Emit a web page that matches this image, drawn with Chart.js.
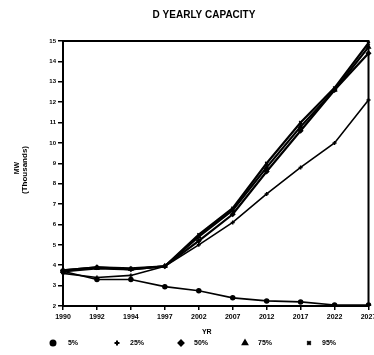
<!DOCTYPE html>
<html>
<head>
<meta charset="utf-8">
<script src="https://cdn.jsdelivr.net/npm/chart.js@4.4.0/dist/chart.umd.min.js"></script>
<style>
  html, body { margin: 0; padding: 0; background: #fff; }
  #wrap { position: relative; width: 374px; height: 355px; }
</style>
</head>
<body>
<div id="wrap"><canvas id="chart" width="374" height="355"></canvas></div>
<script>
// Werte (Tausend MW)
const years = ['1990', '1992', '1994', '1997', '2002', '2007', '2012', '2017', '2022', '2027'];
const p5  = [3.70, 3.30, 3.30, 2.95, 2.75, 2.40, 2.25, 2.20, 2.05, 2.05];
const p25 = [3.60, 3.40, 3.50, 3.95, 5.00, 6.10, 7.50, 8.80, 10.00, 12.10];
const p50 = [3.75, 3.90, 3.80, 3.95, 5.20, 6.50, 8.60, 10.60, 12.60, 14.40];
const p75 = [3.70, 3.85, 3.80, 3.95, 5.40, 6.70, 8.80, 10.80, 12.60, 14.70];
const p95 = [3.75, 3.90, 3.85, 3.95, 5.50, 6.80, 9.00, 11.00, 12.70, 14.90];

const seriesLabels = ['5%', '25%', '50%', '75%', '95%'];
const seriesValues = [p5, p25, p50, p75, p95];
const markers = ['circle', 'cross', 'rectRot', 'triangle', 'crossRot'];
const widths = [1.6, 1.6, 2.2, 2.2, 2.2];

const FONT = 'Liberation Sans, Arial, sans-serif';

const datasets = seriesValues.map((vals, i) => ({
    label: seriesLabels[i],
    data: vals,
    borderColor: '#000',
    backgroundColor: '#000',
    borderWidth: widths[i],
    pointStyle: markers[i],
    pointRadius: 2,
    pointBorderWidth: 1.5,
    tension: 0,
    fill: false
}));

// Rahmen, Titel, Achsentitel und Legende
const decor = {
    id: 'decor',
    afterDraw(chart) {
        const ctx = chart.ctx;
        const a = chart.chartArea;
        ctx.save();
        ctx.strokeStyle = '#000';
        ctx.lineWidth = 2;
        ctx.strokeRect(a.left, a.top, a.right - a.left, a.bottom - a.top);

        ctx.fillStyle = '#000';
        ctx.textAlign = 'center';
        ctx.textBaseline = 'middle';
        ctx.font = 'bold 10px ' + FONT;
        ctx.fillText('D YEARLY CAPACITY', 204, 15);

        // Y-Titel
        ctx.font = 'bold 7px ' + FONT;
        ctx.save();
        ctx.translate(17, 168);
        ctx.rotate(-Math.PI / 2);
        ctx.fillText('MW', 0, 0);
        ctx.restore();
        ctx.save();
        ctx.translate(25, 170);
        ctx.rotate(-Math.PI / 2);
        ctx.font = 'bold 8px ' + FONT;
        ctx.fillText('(Thousands)', 0, 0);
        ctx.restore();

        // X-Titel
        ctx.font = 'bold 7px ' + FONT;
        ctx.fillText('YR', (a.left + a.right) / 2 - 9, 332);

        // Legende
        chart.data.datasets.forEach((ds, i) => {
            const x = 53 + i * 64;
            const y = 343;
            ctx.strokeStyle = '#000';
            ctx.fillStyle = '#000';
            Chart.helpers.drawPoint(ctx, {
                pointStyle: ds.pointStyle, radius: 2.5, borderWidth: 1.5
            }, x, y);
            ctx.fillStyle = '#000';
            ctx.fillText(ds.label, x + 20, y);
        });
        ctx.restore();
    }
};

new Chart(document.getElementById('chart'), {
    type: 'line',
    data: { labels: years, datasets },
    plugins: [decor],
    options: {
        responsive: false,
        animation: false,
        layout: { padding: { top: 41, right: 3, left: 0, bottom: 0 } },
        plugins: {
            legend: { display: false },
            title: { display: false },
            tooltip: { enabled: false }
        },
        scales: {
            x: {
                offset: false,
                grid: { drawOnChartArea: false, drawTicks: true, tickLength: 4, color: '#000', lineWidth: 1.5 },
                border: { display: true, color: '#000', width: 2 },
                ticks: {
                    color: '#000',
                    font: { family: FONT, size: 7, weight: 'bold' },
                    maxRotation: 0,
                    autoSkip: false,
                    padding: 3
                },
                afterFit(scale) {
                    scale.height = 49;
                    scale.paddingLeft = 0;
                    scale.paddingRight = 0;
                }
            },
            y: {
                min: 2,
                max: 15,
                grid: { drawOnChartArea: false, drawTicks: true, tickLength: 5, color: '#000', lineWidth: 1.5 },
                border: { display: true, color: '#000', width: 2 },
                ticks: {
                    stepSize: 1,
                    color: '#000',
                    font: { family: FONT, size: 6, weight: 'bold' },
                    padding: 2
                },
                afterFit(scale) {
                    scale.width = 63;
                    scale.paddingTop = 0;
                    scale.paddingBottom = 0;
                }
            }
        }
    }
});
</script>
</body>
</html>
